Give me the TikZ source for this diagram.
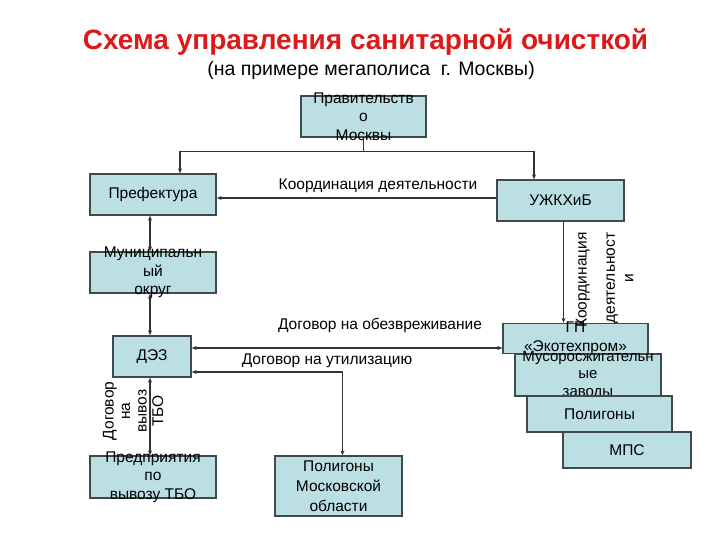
\documentclass[tikz,border=0pt]{standalone}
\usepackage{fontspec}
\setmainfont{Liberation Sans}
\usetikzlibrary{arrows.meta,positioning}
\definecolor{SanFill}{HTML}{BCDFE3}
\definecolor{SanEdge}{HTML}{3E4A4C}
\definecolor{SanLine}{HTML}{333333}
\definecolor{SanRed}{HTML}{DD1A1A}
\tikzset{
  box/.style={draw=SanEdge,fill=SanFill,line width=1.3pt,inner sep=0pt,
    font=\fontsize{15.5}{18.5}\selectfont,align=center},
  lbl/.style={font=\fontsize{15.5}{18.5}\selectfont,align=center,inner sep=0pt},
  conn/.style={draw=SanLine,line width=1.6pt,-{Stealth[length=5pt,width=4pt]}},
  dbl/.style={conn,{Stealth[length=5pt,width=4pt]}-{Stealth[length=5pt,width=4pt]}}
}

\begin{document}
\begin{tikzpicture}[x=1pt,y=-1pt]
  \useasboundingbox (0,0) rectangle (720,540);

  % title
  \node[font=\fontsize{28}{32}\selectfont\bfseries,text=SanRed] (title) at (365.5,42)
    {Схема управления санитарной очисткой};
  \node[font=\fontsize{19.5}{23}\selectfont] (subtitle) at (371,70)
    {(на примере мегаполиса\ \ г. Москвы)};

  % boxes
  \node[box,minimum width=125pt,minimum height=41pt,
    label={[lbl]center:{Правительств\\о\\Москвы}}] (gov) at (363.5,116.5) {};
  \node[box,minimum width=126pt,minimum height=41pt] (pref) at (153,194.5) {Префектура};
  \node[box,minimum width=127pt,minimum height=41pt] (ujk) at (560.5,200.5) {УЖКХиБ};
  \node[box,minimum width=126pt,minimum height=41pt,
    label={[lbl]center:{Муниципальн\\ый\\округ}}] (mun) at (153,272.5) {};
  \node[box,minimum width=78pt,minimum height=41pt] (dez) at (152,356.5) {ДЭЗ};
  \node[box,minimum width=126pt,minimum height=42pt,
    label={[lbl]center:{Предприятия\\по\\вывозу ТБО}}] (pred) at (153,477) {};
  \node[box,minimum width=127pt,minimum height=60pt,
    label={[lbl,font=\fontsize{15.5}{20}\selectfont]center:{Полигоны\\Московской\\области}}] (polmo) at (338.5,486) {};

  \node[box,minimum width=145pt,minimum height=30pt,
    label={[lbl]center:{ГП\\«Экотехпром»}}] (gp) at (575.5,338.5) {};
  \node[box,minimum width=146pt,minimum height=42pt,
    label={[lbl,font=\fontsize{15}{17.5}\selectfont]center:{Мусоросжигательн\\ые\\заводы}}] (mus) at (588,375) {};
  \node[box,minimum width=145pt,minimum height=36pt] (pol) at (599.5,414) {Полигоны};
  \node[box,minimum width=128pt,minimum height=36pt] (mps) at (627,450) {МПС};

  % connectors
  \draw[draw=SanLine,line width=1.6pt] (gov.south) -- ++(0,14) coordinate (split);
  \draw[conn] (split) -| ([xshift=27pt]pref.north);
  \draw[conn] (split) -| ([xshift=-26.5pt]ujk.north);

  \draw[conn] ([yshift=2.5pt]ujk.west) -- ([yshift=2.5pt]ujk.west -| pref.east);
  \node[lbl] (coordlbl) at (378,186) {Координация деятельности};

  \draw[dbl] ([xshift=-3pt]pref.south) -- ([xshift=-3pt]mun.north);
  \draw[dbl] ([xshift=-3pt]mun.south) -- ([xshift=-2pt]dez.north);
  \draw[dbl] ([xshift=-2pt]dez.south) -- ([xshift=-3pt]pred.north);
  \node[lbl,rotate=90,font=\fontsize{15.5}{16.5}\selectfont] (vyvozlbl) at (133,411)
    {Договор\\на\\вывоз\\ТБО};

  \draw[conn] ([xshift=3pt]ujk.south) -- ([xshift=3pt]ujk.south |- gp.north);
  \node[lbl,rotate=90] (coordv) at (583,280) {Координация};
  \node[lbl,rotate=90] (deyatv) at (620,278) {деятельност\\и};

  \draw[dbl] ([yshift=8.5pt]dez.east) -- ([yshift=8.5pt]dez.east -| gp.west);
  \node[lbl] (obezlbl) at (380,325) {Договор на обезвреживание};

  \draw[dbl] ([yshift=-15.5pt]dez.east) -| ([xshift=4pt]polmo.north);
  \node[lbl] (utillbl) at (327,361) {Договор на утилизацию};
\end{tikzpicture}
\end{document}
